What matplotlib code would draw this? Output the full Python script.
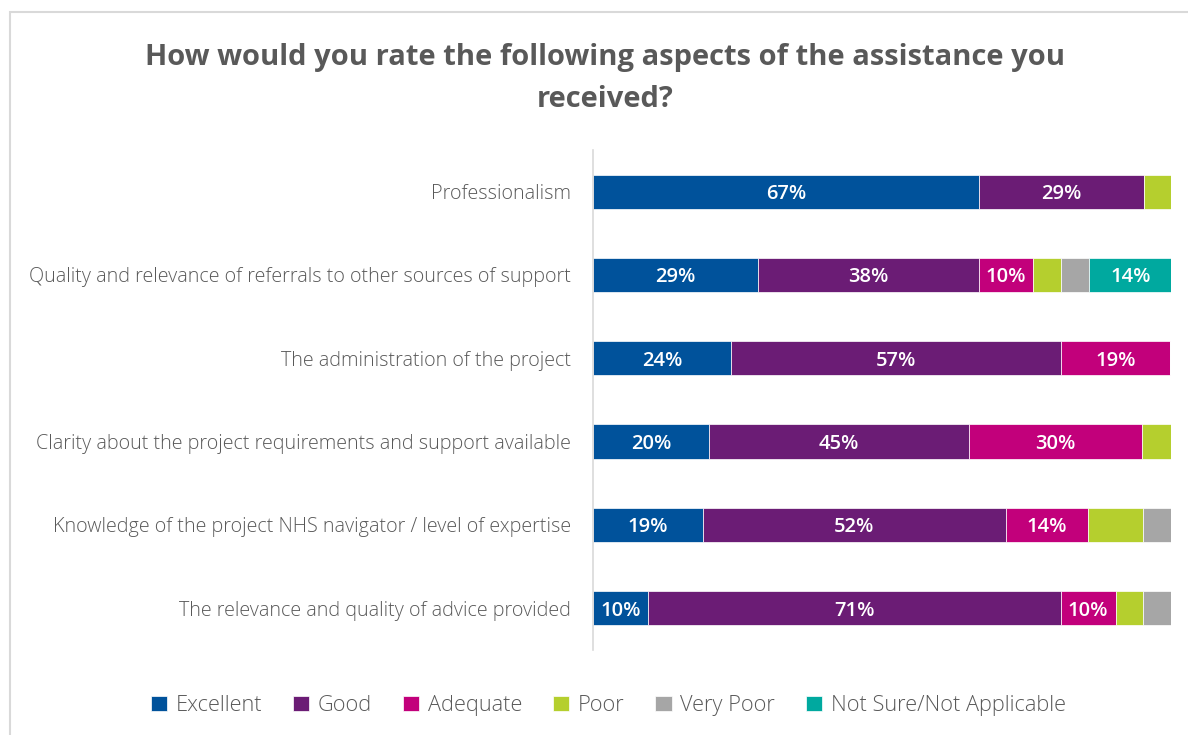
"""Stacked horizontal bar chart: ratings of assistance received."""

import matplotlib.pyplot as plt
from matplotlib.patches import Rectangle

plt.rcParams["font.family"] = ["Open Sans", "DejaVu Sans"]

CATEGORIES = [
    "Professionalism",
    "Quality and relevance of referrals to other sources of support",
    "The administration of the project",
    "Clarity about the project requirements and support available",
    "Knowledge of the project NHS navigator / level of expertise",
    "The relevance and quality of advice provided",
]
SERIES = ["Excellent", "Good", "Adequate", "Poor", "Very Poor", "Not Sure/Not Applicable"]

excellent = [66.7, 28.6, 23.8, 20.0, 19.0, 9.5]
good = [28.6, 38.1, 57.1, 45.0, 52.4, 71.4]
adequate = [0.0, 9.5, 19.0, 30.0, 14.3, 9.5]
poor = [4.8, 4.8, 0.0, 5.0, 9.5, 4.8]
very_poor = [0.0, 4.8, 0.0, 0.0, 4.8, 4.8]
not_sure = [0.0, 14.3, 0.0, 0.0, 0.0, 0.0]

# series whose segments carry a value label
LABELLED = {"Excellent", "Good", "Adequate", "Not Sure/Not Applicable"}

COLORS = ["#00529B", "#6B1C75", "#C2007B", "#B5CF2E", "#A6A6A6", "#00A99F"]
TEXT_GRAY = "#595959"


def main() -> None:
    fig = plt.figure(figsize=(11.88, 7.35), dpi=100)
    ax = fig.add_axes([0.4992, 0.116, 0.4865, 0.68])

    values = [excellent, good, adequate, poor, very_poor, not_sure]
    y = list(range(len(CATEGORIES)))
    left = [0.0] * len(CATEGORIES)
    for name, vals, color in zip(SERIES, values, COLORS):
        bars = ax.barh(y, vals, left=left, height=0.41, color=color, label=name,
                       edgecolor="white", linewidth=0.5)
        if name in LABELLED:
            for bar, v in zip(bars, vals):
                if v > 0:
                    ax.text(bar.get_x() + bar.get_width() / 2,
                            bar.get_y() + bar.get_height() / 2,
                            f"{v:.0f}%", ha="center", va="center_baseline", color="white",
                            fontsize=14.5, fontweight="semibold")
        left = [a + b for a, b in zip(left, vals)]

    ax.set_xlim(0, 100)
    ax.set_ylim(len(CATEGORIES) - 0.5, -0.5)
    ax.set_yticks(y)
    ax.set_yticklabels(CATEGORIES, fontsize=14.2, color=TEXT_GRAY, fontweight="light")
    ax.tick_params(axis="y", length=0, pad=16)
    ax.set_xticks([])
    for side in ["top", "right", "bottom"]:
        ax.spines[side].set_visible(False)
    ax.spines["left"].set_color("#D9D9D9")
    ax.spines["left"].set_linewidth(1.2)

    fig.text(0.509, 0.922, "How would you rate the following aspects of the assistance you",
             ha="center", va="center", fontsize=21, fontweight="bold", color=TEXT_GRAY)
    fig.text(0.509, 0.865, "received?", ha="center", va="center", fontsize=21,
             fontweight="bold", color=TEXT_GRAY)

    leg = fig.legend(loc="center", bbox_to_anchor=(0.512, 0.04), ncol=6, frameon=False,
                     handlelength=0.75, handleheight=0.75, handletextpad=0.4,
                     columnspacing=1.4, fontsize=15.7)
    for t in leg.get_texts():
        t.set_color(TEXT_GRAY)
        t.set_fontweight("light")

    fig.patches.append(Rectangle((10 / 1188, -0.01), 1.02, 1 - 12 / 735 + 0.01,
                                 transform=fig.transFigure, fill=False,
                                 edgecolor="#D9D9D9", linewidth=1.5))

    fig.savefig("out.png", dpi=100)
    plt.close(fig)


if __name__ == "__main__":
    main()
